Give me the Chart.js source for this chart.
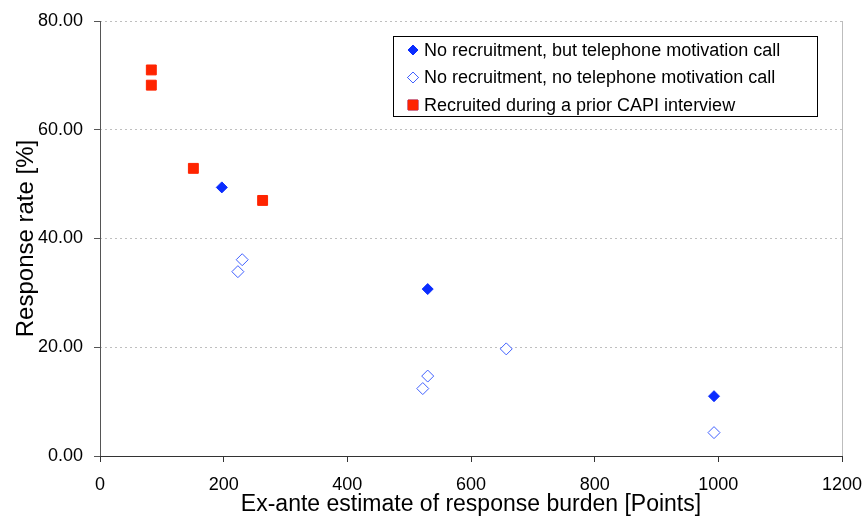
<!DOCTYPE html>
<html>
<head>
<meta charset="utf-8">
<script src="https://cdn.jsdelivr.net/npm/chart.js@4/dist/chart.umd.min.js"></script>
<style>
  html, body { margin: 0; padding: 0; background: #fff; }
  #wrap { width: 864px; height: 520px; }
</style>
</head>
<body>
<div id="wrap"><canvas id="burdenChart" width="864" height="520"></canvas></div>
<script>
// data
const seriesNames = [
	'No recruitment, but telephone motivation call',
	'No recruitment, no telephone motivation call',
	'Recruited during a prior CAPI interview'
];
const callX = [197, 530, 993];
const callY = [49.4, 30.7, 11.0];
const noCallX = [230, 223, 522, 530, 657, 993];
const noCallY = [36.1, 33.9, 12.4, 14.7, 19.7, 4.3];
const capiX = [83, 83, 151, 263];
const capiY = [71.0, 68.2, 52.9, 47.0];
const xTicks = [0, 200, 400, 600, 800, 1000, 1200];
const yTicks = [0, 20, 40, 60, 80];

const toPoints = (xs, ys) => xs.map((x, i) => ({ x: x, y: ys[i] }));

const font = 'Liberation Sans, Arial, sans-serif';

// axis lines, right frame + legend box inside the plot
const framePlugin = {
	id: 'frame',
	afterDraw(chart) {
		const ctx = chart.ctx;
		const area = chart.chartArea;
		ctx.save();
		ctx.setLineDash([]);
		ctx.lineWidth = 1;
		ctx.strokeStyle = '#bdbdbd';
		ctx.beginPath();
		ctx.moveTo(area.right + 0.5, area.top);
		ctx.lineTo(area.right + 0.5, area.bottom);
		ctx.stroke();
		ctx.strokeStyle = '#555';
		ctx.beginPath();
		ctx.moveTo(area.left + 0.5, area.top);
		ctx.lineTo(area.left + 0.5, area.bottom);
		ctx.stroke();
		ctx.strokeStyle = '#333';
		ctx.beginPath();
		ctx.moveTo(area.left, area.bottom + 0.5);
		ctx.lineTo(area.right + 1, area.bottom + 0.5);
		ctx.stroke();

		// legend
		const bx = area.right - 449, by = area.top + 15, bw = 424, bh = 80;
		ctx.fillStyle = '#fff';
		ctx.fillRect(bx, by, bw, bh);
		ctx.strokeStyle = '#000';
		ctx.strokeRect(bx + 0.5, by + 0.5, bw, bh);
		ctx.font = '18px ' + font;
		ctx.textBaseline = 'middle';
		chart.data.datasets.forEach((ds, i) => {
			const y = by + 14 + i * 27.5;
			Chart.helpers.drawPoint(ctx, {
				pointStyle : ds.pointStyle,
				radius     : ds.legendRadius,
				rotation   : 0,
				borderWidth: ds.borderWidth
			}, bx + 20, y);
			ctx.fillStyle = ds.backgroundColor;
			ctx.strokeStyle = ds.borderColor;
			ctx.lineWidth = ds.borderWidth;
			ctx.fill();
			ctx.stroke();
			ctx.fillStyle = '#000';
			ctx.fillText(ds.label, bx + 31, y + 1);
		});
		ctx.restore();
	}
};

let burdenChart = document.getElementById('burdenChart').getContext('2d');

new Chart(burdenChart, {
	type    : 'scatter',
	data    : {
		datasets : [
			{
				label           : seriesNames[0],
				data            : toPoints(callX, callY),
				pointStyle      : 'rectRot',
				pointRadius     : 5.5,
				legendRadius    : 5,
				backgroundColor : '#0a2cff',
				borderColor     : '#0a2cff',
				borderWidth     : 1
			},
			{
				label           : seriesNames[1],
				data            : toPoints(noCallX, noCallY),
				pointStyle      : 'rectRot',
				pointRadius     : 6,
				legendRadius    : 5.5,
				backgroundColor : '#ffffff',
				borderColor     : '#4060ff',
				borderWidth     : 1
			},
			{
				label           : seriesNames[2],
				data            : toPoints(capiX, capiY),
				pointStyle      : 'rect',
				pointRadius     : 7,
				legendRadius    : 7,
				backgroundColor : '#ff2400',
				borderColor     : '#ff2400',
				borderWidth     : 1
			}
		]
	},
	options : {
		responsive : false,
		animation  : false,
		layout     : { autoPadding: false, padding: { top: 21, right: 22, left: 0, bottom: 0 } },
		plugins    : {
			legend  : { display: false },
			tooltip : { enabled: false }
		},
		scales     : {
			x : {
				type   : 'linear',
				min    : xTicks[0],
				max    : xTicks[xTicks.length - 1],
				afterFit (scale) {
					scale.height = 64;
					scale.paddingLeft = 0;
					scale.paddingRight = 0;
				},
				afterBuildTicks (scale) { scale.ticks = xTicks.map(v => ({ value: v })); },
				border : { display: false },
				grid   : { drawOnChartArea: false, drawTicks: true, tickLength: 6, tickColor: '#333' },
				ticks  : {
					color    : '#000',
					padding  : 12,
					font     : { family: font, size: 18 },
					callback : (v) => String(v)
				},
				title  : {
					display : true,
					text    : 'Ex-ante estimate of response burden [Points]',
					color   : '#000',
					padding : { top: 0, bottom: 2 },
					font    : { family: font, size: 23 }
				}
			},
			y : {
				type   : 'linear',
				min    : yTicks[0],
				max    : yTicks[yTicks.length - 1],
				afterFit (scale) {
					scale.width = 100;
					scale.paddingTop = 0;
					scale.paddingBottom = 0;
				},
				afterBuildTicks (scale) { scale.ticks = yTicks.map(v => ({ value: v })); },
				border : { display: false, dash: [2, 3] },
				grid   : {
					color         : (c) => c.tick && c.tick.value === 0 ? 'rgba(0,0,0,0)' : '#bfbfbf',
					tickLength    : 6,
					tickColor     : '#555',
					tickBorderDash: []
				},
				ticks  : {
					color    : '#000',
					padding  : 11,
					font     : { family: font, size: 18 },
					callback : (v) => v.toFixed(2)
				},
				title  : {
					display : true,
					text    : 'Response rate [%]',
					color   : '#000',
					padding : { top: 12, bottom: 0 },
					font    : { family: font, size: 24 }
				}
			}
		}
	},
	plugins : [framePlugin]
});
</script>
</body>
</html>
